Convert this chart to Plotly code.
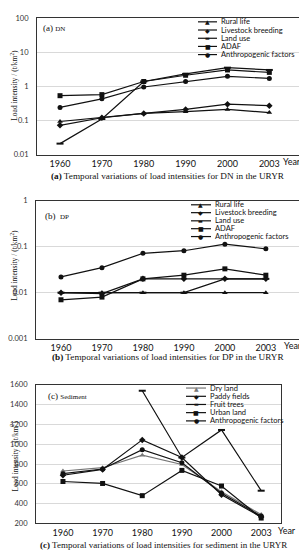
import plotly.graph_objects as go

W, H = 307, 550

years = ["1960", "1970", "1980", "1990", "2000", "2003"]

# (a) DN load intensities (t/km2)
dn_rural = [0.093, 0.12, 0.16, 0.18, 0.21, 0.17]
dn_livestock = [0.072, 0.12, 0.16, 0.21, 0.30, 0.27]
dn_landuse = [0.021, 0.11, 1.38, 2.3, 3.5, 3.0]
dn_adaf = [0.53, 0.57, 1.38, 2.1, 3.0, 2.55]
dn_anthro = [0.24, 0.43, 0.95, 1.38, 1.95, 1.7]

# (b) DP load intensities (t/km2)
dp_rural = [0.01, 0.01, 0.01, 0.01, 0.01, 0.01]
dp_livestock = [0.01, 0.0095, 0.02, 0.02, 0.02, 0.02]
dp_landuse = [0.01, 0.01, 0.01, 0.01, 0.02, 0.02]
dp_adaf = [0.007, 0.008, 0.02, 0.024, 0.033, 0.024]
dp_anthro = [0.022, 0.035, 0.072, 0.082, 0.114, 0.09]

# (c) Sediment load intensities (t/km2)
sed_dry = [730, 763, 890, 796, 520, 290]
sed_paddy = [687, 746, 1044, 866, 490, 265]
sed_fruit = [None, None, 1540, 866, 1144, 531]
sed_urban = [624, 604, 481, 736, 578, 255]
sed_anthro = [703, 750, 945, 813, 505, 275]

names_ab = ["Rural life", "Livestock breeding", "Land use", "ADAF", "Anthropogenic factors"]
names_c = ["Dry land", "Paddy fields", "Fruit trees", "Urban land", "Anthropogenic factors"]
symbols = ["triangle-up", "diamond", "line-ew", "square", "circle"]
glyphs = ["▲", "◆", "▬", "■", "●"]

SANS = "Lato, 'Liberation Sans', sans-serif"
SERIF = "'Liberation Serif', 'DejaVu Serif', serif"
INK = "#111111"


def px(x):
    return x / W


def py(y):
    return 1 - y / H


fig = go.Figure()


def add_series(vals_list, names, colors, xa, ya):
    for vals, name, sym, col in zip(vals_list, names, symbols, colors):
        mk = dict(symbol=sym, size=5, color=col)
        if sym == "line-ew":
            mk = dict(symbol=sym, size=5, color=col, line=dict(width=2, color=col))
        fig.add_trace(go.Scatter(
            x=years, y=vals, mode="lines+markers", name=name,
            line=dict(color=col, width=1.2), marker=mk,
            connectgaps=False, showlegend=False, xaxis=xa, yaxis=ya,
            cliponaxis=False,
        ))


add_series([dn_rural, dn_livestock, dn_landuse, dn_adaf, dn_anthro], names_ab, [INK] * 5, "x", "y")
add_series([dp_rural, dp_livestock, dp_landuse, dp_adaf, dp_anthro], names_ab, [INK] * 5, "x2", "y2")
colors_c = ["#777777", INK, INK, INK, INK]
add_series([sed_dry, sed_paddy, sed_fruit, sed_urban, sed_anthro], names_c, colors_c, "x3", "y3")

frame = dict(showline=True, mirror=True, linecolor="#333333", linewidth=1, ticks="")

def xax(dom, rng, anchor):
    return dict(domain=dom, type="category", range=rng, anchor=anchor, showgrid=False,
                tickfont=dict(family=SANS, size=9, color=INK), ticklabelstandoff=1, **frame)


def yax(dom, anchor, **kw):
    d = dict(domain=dom, anchor=anchor, showgrid=True, gridcolor="#d9d9d9", gridwidth=1,
             zeroline=False, tickfont=dict(family=SANS, size=7.5, color="#333333"),
             ticklabelstandoff=6, **frame)
    d.update(kw)
    return d


fig.update_layout(
    width=W, height=H, margin=dict(l=0, r=0, t=0, b=0),
    paper_bgcolor="white", plot_bgcolor="white", showlegend=False,
    xaxis=xax([px(29), px(299)], [-0.55, 5.9], "y"),
    yaxis=yax([py(145), py(6)], "x", type="log", range=[-2, 2],
              tickvals=[0.01, 0.1, 1, 10, 100], ticktext=["0.01", "0.1", "1", "10", "100"]),
    xaxis2=xax([px(28), px(298)], [-0.61, 5.98], "y2"),
    yaxis2=yax([py(332), py(192)], "x2", type="log", range=[-3, 0],
               tickvals=[0.001, 0.01, 0.1, 1], ticktext=["0.001", "0.01", "0.1", "1"]),
    xaxis3=xax([px(28), px(273)], [-0.68, 5.5], "y3"),
    yaxis3=yax([py(520), py(379)], "x3", range=[200, 1600],
               tickvals=[200, 400, 600, 800, 1000, 1200, 1400, 1600]),
)

shapes = []
annots = []


def legend(names, colors, x0, x1, xt, rows):
    for name, g, col, yy in zip(names, glyphs, colors, rows):
        shapes.append(dict(type="line", xref="paper", yref="paper", x0=px(x0), x1=px(x1),
                           y0=py(yy), y1=py(yy), line=dict(color=col, width=1.2)))
        annots.append(dict(text=g, x=px((x0 + x1) / 2), y=py(yy), xref="paper", yref="paper",
                           showarrow=False, xanchor="center", yanchor="middle",
                           font=dict(family="DejaVu Sans", size=6 if g != "▬" else 5, color=col)))
        annots.append(dict(text=name, x=px(xt), y=py(yy), xref="paper", yref="paper",
                           showarrow=False, xanchor="left", yanchor="middle",
                           font=dict(family=SANS, size=7.5, color=INK)))


legend(names_ab, [INK] * 5, 190, 209, 211, [10, 18.3, 26.7, 35, 43.3])
legend(names_ab, [INK] * 5, 183, 203, 205, [196, 204, 212.3, 220.3, 228.3])
legend(names_c, colors_c, 178, 198, 200, [382.3, 390.7, 399, 407.3, 415.7])


def text(t, x, y, size, family=SERIF, anchor="center", angle=0):
    annots.append(dict(text=t, x=px(x), y=py(y), xref="paper", yref="paper", showarrow=False,
                       xanchor=anchor, yanchor="middle", textangle=angle,
                       font=dict(family=family, size=size, color=INK)))


# panel labels
text("(a) <span style='font-size:7px'>DN</span>", 33, 16, 9, anchor="left")
text("(b)  <span style='font-size:7px'>DP</span>", 35, 207, 9, anchor="left")
text("(c) <span style='font-size:7px'>Sediment</span>", 38, 390, 9, anchor="left")

# y axis titles
ytitle = "Load intensity / (t/km<sup>2</sup>)"
text(ytitle, 6, 75, 7.5, angle=-90)
text(ytitle, 6, 258, 7.5, angle=-90)
text(ytitle, 6, 452, 7.5, angle=-90)

# Year labels
text("Year", 284, 152, 9, family=SANS)
text("Year", 285, 339, 9, family=SANS)
text("Year", 279, 527, 9, family=SANS)

# captions
text("<b>(a)</b> Temporal variations of load intensities for DN in the URYR", 160, 167, 9.2)
text("<b>(b)</b> Temporal variations of load intensities for DP in the URYR", 160, 351, 9.2)
text("<b>(c)</b> Temporal variations of load intensities for sediment in the URYR", 155, 542, 9)

fig.update_layout(shapes=shapes, annotations=annots)
fig.write_html("out.html")
